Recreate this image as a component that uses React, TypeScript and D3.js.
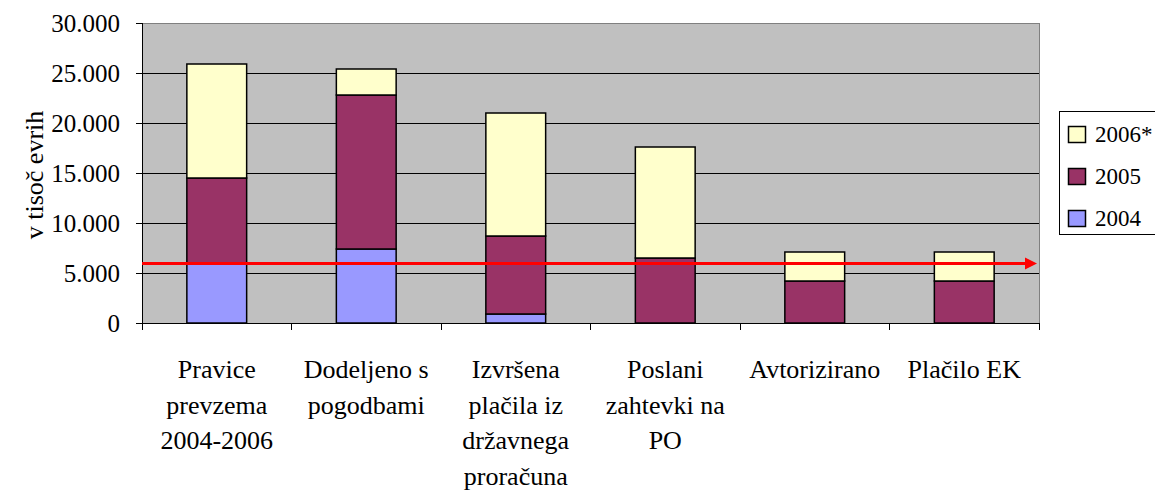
import * as d3 from "d3";

const categories = [
  ["Pravice", "prevzema", "2004-2006"],
  ["Dodeljeno s", "pogodbami"],
  ["Izvršena", "plačila iz", "državnega", "proračuna"],
  ["Poslani", "zahtevki na", "PO"],
  ["Avtorizirano"],
  ["Plačilo EK"],
];
const v2004 = [5900, 7400, 900, 0, 0, 0];
const v2005 = [8600, 15400, 7800, 6500, 4200, 4200];
const v2006 = [11400, 2600, 12300, 11100, 2900, 2900];
const seriesKeys = ["2004", "2005", "2006*"];
const seriesColors = ["#9999ff", "#993366", "#ffffcc"];
const yTicks = [0, 5000, 10000, 15000, 20000, 25000, 30000];
const refLineValue = 5950;

const W = 1155;
const H = 490;
const plot = { left: 142, right: 1039, top: 23, bottom: 323 };
const font = "Liberation Serif, Times New Roman, serif";

const fmt = d3
  .formatLocale({ decimal: ",", thousands: ".", grouping: [3], currency: ["", ""] })
  .format(",");

export default function App() {
  const rows = categories.map((c, i) => ({
    idx: i,
    "2004": v2004[i],
    "2005": v2005[i],
    "2006*": v2006[i],
  }));

  const x = d3
    .scaleBand<number>()
    .domain(rows.map((d) => d.idx))
    .range([plot.left, plot.right])
    .paddingInner(0.6)
    .paddingOuter(0.3);
  const band = (plot.right - plot.left) / categories.length;
  const y = d3.scaleLinear().domain([0, 30000]).range([plot.bottom, plot.top]);

  const stacked = d3.stack<any>().keys(seriesKeys)(rows);
  const refY = y(refLineValue);

  return (
    <svg
      width={W}
      height={H}
      fontFamily={font}
      style={{ position: "absolute", left: 0, top: 0 }}
    >
      <rect x={0} y={0} width={W} height={H} fill="#fff" />
      {/* plot background */}
      <rect
        x={plot.left}
        y={plot.top}
        width={plot.right - plot.left}
        height={plot.bottom - plot.top}
        fill="#c0c0c0"
        stroke="#808080"
        strokeWidth={1}
        shapeRendering="crispEdges"
      />
      {yTicks.map((t) => (
        <g key={t}>
          {t > 0 && t < 30000 && (
            <line
              x1={plot.left}
              x2={plot.right}
              y1={y(t)}
              y2={y(t)}
              stroke="#000"
              shapeRendering="crispEdges"
            />
          )}
          <line
            x1={plot.left - 6}
            x2={plot.left}
            y1={y(t)}
            y2={y(t)}
            stroke="#000"
            shapeRendering="crispEdges"
          />
          <text
            x={plot.left - 22}
            y={y(t)}
            dy="0.35em"
            textAnchor="end"
            fontSize={25}
            fontFamily={font}
            fill="#000"
          >
            {fmt(t)}
          </text>
        </g>
      ))}
      <line
        x1={plot.left}
        x2={plot.left}
        y1={plot.top}
        y2={plot.bottom}
        stroke="#000"
        shapeRendering="crispEdges"
      />
      <text
        transform={`translate(34,${(plot.top + plot.bottom) / 2 + 2}) rotate(-90)`}
        textAnchor="middle"
        dy="0.35em"
        fontSize={26}
        fontFamily={font}
      >
        v tisoč evrih
      </text>

      {/* bars */}
      {stacked.map((s, si) => (
        <g key={s.key} fill={seriesColors[si]} stroke="#000" strokeWidth={1.5}>
          {s.map((d, i) =>
            d[1] - d[0] > 0 ? (
              <rect
                key={i}
                x={x(i)}
                width={x.bandwidth()}
                y={y(d[1])}
                height={y(d[0]) - y(d[1])}
              />
            ) : null
          )}
        </g>
      ))}

      {/* x axis */}
      <line
        x1={plot.left}
        x2={plot.right}
        y1={plot.bottom}
        y2={plot.bottom}
        stroke="#000"
        shapeRendering="crispEdges"
      />
      {d3.range(categories.length + 1).map((i) => (
        <line
          key={i}
          x1={plot.left + i * band}
          x2={plot.left + i * band}
          y1={plot.bottom}
          y2={plot.bottom + 7}
          stroke="#000"
          shapeRendering="crispEdges"
        />
      ))}
      {categories.map((lines, i) => (
        <text
          key={i}
          x={plot.left + (i + 0.5) * band}
          textAnchor="middle"
          fontSize={26}
          fontFamily={font}
        >
          {lines.map((l, j) => (
            <tspan key={j} x={plot.left + (i + 0.5) * band} y={378 + j * 35.5}>
              {l}
            </tspan>
          ))}
        </text>
      ))}

      {/* reference arrow */}
      <line
        x1={plot.left}
        x2={plot.right - 12}
        y1={refY}
        y2={refY}
        stroke="#ff0000"
        strokeWidth={3}
      />
      <path
        d={`M${plot.right - 14},${refY - 6} L${plot.right - 2},${refY} L${plot.right - 14},${refY + 6} Z`}
        fill="#ff0000"
      />

      {/* legend */}
      <rect
        x={1059.5}
        y={111.5}
        width={110}
        height={123}
        fill="#fff"
        stroke="#000"
        strokeWidth={1}
      />
      {[2, 1, 0].map((si, k) => (
        <g key={si} transform={`translate(1068,${126 + k * 42})`}>
          <rect
            x={0.5}
            y={0.5}
            width={17}
            height={16}
            fill={seriesColors[si]}
            stroke="#000"
            strokeWidth={1.5}
          />
          <text x={27} y={8} dy="0.35em" fontSize={23} fontFamily={font}>
            {seriesKeys[si]}
          </text>
        </g>
      ))}
    </svg>
  );
}
